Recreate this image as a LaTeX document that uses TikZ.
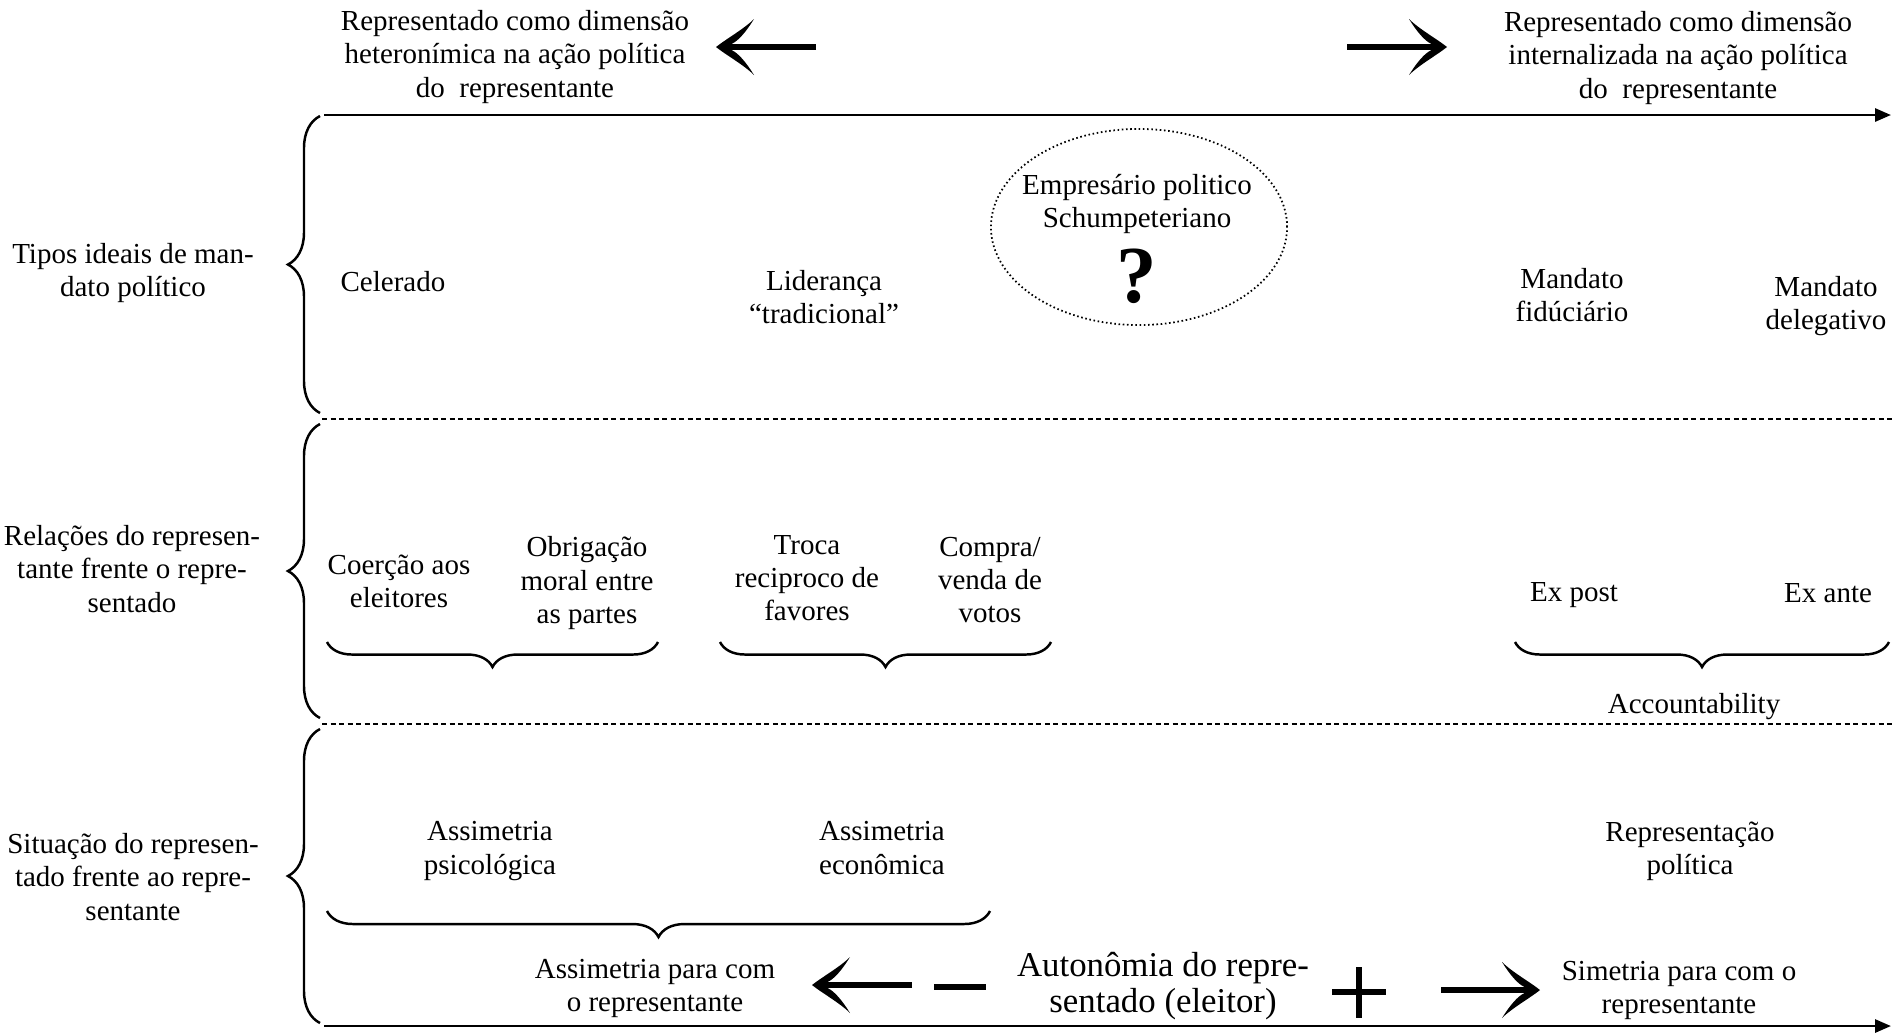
\documentclass[tikz,border=0pt]{standalone}
\usepackage{fontspec}
\setmainfont{Liberation Serif}
\usetikzlibrary{decorations.pathreplacing,arrows.meta,shapes.geometric}

\tikzset{
  txt/.style={align=center, inner sep=0pt, font=\fontsize{8.25}{9.4}\selectfont},
  bigtxt/.style={align=center, inner sep=0pt, font=\fontsize{9.9}{10.4}\selectfont},
  axis/.style={line width=0.8pt, -{Triangle[length=0.16cm,width=0.13cm]}},
  sepline/.style={line width=0.5pt, dash pattern=on 0.05cm off 0.035cm},
  bigbrace/.style={line width=0.7pt, decorate, decoration={brace, amplitude=0.32cm}},
  subbrace/.style={line width=0.7pt, decorate, decoration={brace, amplitude=#1}},
  subbrace/.default=0.25cm,
  shaft/.style={line width=0.065cm, shorten >=0.12cm},
  symhead/.pic={\fill (0,0) .. controls (-10,-8) and (-28,-18) .. (-38,-28)
     .. controls (-30,-15) and (-22,-6) .. (-16,-3.3) -- (-16,3.3)
     .. controls (-22,6) and (-30,15) .. (-38,28)
     .. controls (-28,18) and (-10,8) .. (0,0) -- cycle;},
  signbar/.style={line width=0.06cm},
  bubble/.style={draw, ellipse, line width=0.5pt, dash pattern=on 0.45pt off 0.75pt,
    minimum width=2.96cm, minimum height=1.96cm, inner sep=0pt},
}

\begin{document}
\begin{tikzpicture}[x=0.01cm, y=-0.01cm]
\useasboundingbox (0,0) rectangle (1901,1035);

% --- horizontal axes ---
\coordinate (topA) at (324,115);
\coordinate (topB) at (1891,115);
\coordinate (botA) at (324,1026);
\coordinate (botB) at (1891,1026);
\draw[axis] (topA) -- (topB);
\draw[axis] (botA) -- (botB);

% --- dashed separators between the three bands ---
\coordinate (s1a) at (322,419);
\coordinate (s1b) at (1895,419);
\coordinate (s2a) at (322,724);
\coordinate (s2b) at (1895,724);
\draw[sepline] (s1a) -- (s1b);
\draw[sepline] (s2a) -- (s2b);

% --- band braces ---
\coordinate (b1a) at (320,413);
\coordinate (b1b) at (320,116);
\coordinate (b2a) at (320,718);
\coordinate (b2b) at (320,424);
\coordinate (b3a) at (320,1023);
\coordinate (b3b) at (320,729);
\draw[bigbrace] (b1a) -- (b1b);
\draw[bigbrace] (b2a) -- (b2b);
\draw[bigbrace] (b3a) -- (b3b);

% --- top headings and direction arrows ---
\node[txt] (hetero) at (515,57) {Representado como dimensão\\heteronímica na ação política\\do\ \ representante};
\node[txt] (intern) at (1678,58) {Representado como dimensão\\internalizada na ação política\\do\ \ representante};
\coordinate (tl1) at (816,47);
\coordinate (tl2) at (716,47);
\coordinate (tr1) at (1347,47);
\coordinate (tr2) at (1447,47);
\draw[shaft] (tl1) -- (tl2);
\pic[rotate=180] at (tl2) {symhead};
\draw[shaft] (tr1) -- (tr2);
\pic at (tr2) {symhead};

% --- band labels ---
\node[txt] (lab1) at (133,273) {Tipos ideais de man-\\dato político};
\node[txt] (lab2) at (132,569) {Relações do represen-\\tante frente o repre-\\sentado};
\node[txt] (lab3) at (133,877) {Situação do represen-\\tado frente ao repre-\\sentante};

% --- band 1: ideal types of mandate ---
\node[txt] (celerado) at (393,282) {Celerado};
\node[txt] (lideranca) at (824,297) {Liderança\\“tradicional”};
\node[bubble] (bubble) at (1139,227) {};
\node[txt] (empresario) at (1137,204) {Empresário politico\\Schumpeteriano};
\node[inner sep=0pt, font=\fontsize{23}{23}\selectfont\bfseries] (qmark) at (1137,276) {?};
\node[txt] (fiduciario) at (1572,295) {Mandato\\fidúciário};
\node[txt] (delegativo) at (1826,306) {Mandato\\delegativo};

% --- band 2: relations ---
\node[txt] (coercao) at (399,581) {Coerção aos\\eleitores};
\node[txt] (obrigacao) at (587,583) {Obrigação\\moral entre\\as partes};
\node[txt] (troca) at (807,578) {Troca\\reciproco de\\favores};
\node[txt] (compra) at (990,580) {Compra/\\venda de\\votos};
\node[txt] (expost) at (1574,595) {Ex post};
\node[txt] (exante) at (1828,593) {Ex ante};
\node[txt] (account) at (1694,707) {Accountability};
\coordinate (c1a) at (658,642);
\coordinate (c1b) at (327,642);
\coordinate (c2a) at (1051,642);
\coordinate (c2b) at (720,642);
\coordinate (c3a) at (1889,642);
\coordinate (c3b) at (1515,642);
\draw[subbrace] (c1a) -- (c1b);
\draw[subbrace] (c2a) -- (c2b);
\draw[subbrace] (c3a) -- (c3b);

% --- band 3: situation of the represented ---
\node[txt] (psico) at (490,851) {Assimetria\\psicológica};
\node[txt] (econ) at (882,848) {Assimetria\\econômica};
\node[txt] (reppol) at (1690,851) {Representação\\política};
\coordinate (d1a) at (990,911);
\coordinate (d1b) at (327,911);
\draw[subbrace=0.26cm] (d1a) -- (d1b);

\node[txt] (assimpara) at (655,988) {Assimetria para com\\o representante};
\node[bigtxt] (autonomia) at (1163,986) {Autonômia do repre-\\sentado (eleitor)};
\node[txt] (simetria) at (1679,990) {Simetria para com o\\representante};

\coordinate (bl1) at (912,985);
\coordinate (bl2) at (812,985);
\draw[shaft] (bl1) -- (bl2);
\pic[rotate=180] at (bl2) {symhead};
\coordinate (br1) at (1441,990);
\coordinate (br2) at (1540,990);
\draw[shaft] (br1) -- (br2);
\pic at (br2) {symhead};

% minus and plus signs
\coordinate (mA) at (934,987);
\coordinate (mB) at (986,987);
\draw[signbar] (mA) -- (mB);
\coordinate (pL) at (1332,992);
\coordinate (pR) at (1386,992);
\coordinate (pT) at (1359,967);
\coordinate (pB) at (1359,1018);
\draw[signbar] (pL) -- (pR);
\draw[signbar] (pT) -- (pB);
\end{tikzpicture}
\end{document}
